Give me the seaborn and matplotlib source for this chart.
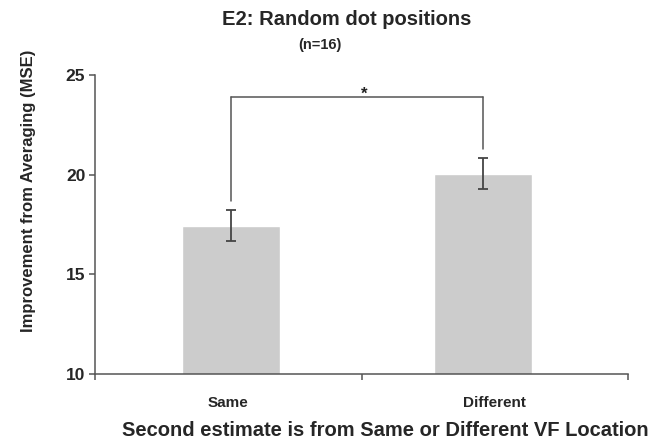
#! /usr/bin/env python3
'''
E2 bar chart: improvement from averaging, same vs different VF location
'''

# imports
import matplotlib
matplotlib.use('Agg')
import matplotlib.pyplot as plt
import pandas as pd
import seaborn as sns

# data
conditions = ['Same', 'Different']
mse_gain = [17.45, 20.05]
sem = [0.80, 0.78]
y_ticks = [10, 15, 20, 25]
sig_label = '*'

# style
sns.set_style('ticks')
plt.rcParams['font.family'] = ['Liberation Sans', 'DejaVu Sans']
plt.rcParams['font.weight'] = 'bold'
LINE = '#555555'
BAR = '#cccccc'
BAR_POS = [0.01, 0.955]  # bars sit slightly off the category centres

df = pd.DataFrame({'cond': conditions, 'gain': mse_gain})

fig = plt.figure(figsize=(6.57, 4.4), dpi=100)
ax = fig.add_axes([0.1446, 0.15, 0.8114, 0.6795])

sns.barplot(data=df, x='cond', y='gain', order=conditions, color=BAR,
            width=0.37, errorbar=None, ax=ax, saturation=1)
for patch, pos in zip(ax.patches, BAR_POS):
    patch.set_x(pos - patch.get_width() / 2)
ax.errorbar(BAR_POS, mse_gain, yerr=sem, fmt='none',
            ecolor='#444444', elinewidth=1.3, capsize=3.5, capthick=1.3)

# significance bracket
top = 23.9
gap = 0.45
ax.plot([BAR_POS[0]] * 2, [mse_gain[0] + sem[0] + gap, top], color=LINE, lw=1.1)
ax.plot([BAR_POS[1]] * 2, [mse_gain[1] + sem[1] + gap, top], color=LINE, lw=1.1)
ax.plot(BAR_POS, [top, top], color=LINE, lw=1.1)
ax.text(0.51, top + 0.12, sig_label, ha='center', va='center', fontsize=12,
        color='#222222')

# axes
ax.set_ylim(10, 25)
ax.set_xlim(-0.5, 1.5)
ax.set_yticks(y_ticks)
ax.set_yticklabels([str(t) for t in y_ticks], fontsize=12.5, fontweight='bold')
ax.set_xticks([0, 1])
ax.set_xticklabels(conditions, fontsize=11, fontweight='bold')
ax.tick_params(axis='x', length=0, pad=16)
ax.set_xticks([-0.5, 0.5, 1.5], minor=True)
ax.tick_params(axis='x', which='minor', length=4, color=LINE, width=1.1)
ax.tick_params(axis='y', length=4, color=LINE, width=1.1, pad=3)
sns.despine(ax=ax)
for s in ['left', 'bottom']:
    ax.spines[s].set_color(LINE)
    ax.spines[s].set_linewidth(1.1)

ax.set_ylabel('Improvement from Averaging (MSE)', fontsize=12, fontweight='bold')
ax.set_xlabel('Second estimate is from Same or Different VF Location',
              fontsize=14.5, fontweight='bold')
ax.yaxis.set_label_coords(-0.11, 0.612)
ax.xaxis.set_label_coords(0.544, -0.158)

fig.text(0.527, 0.955, 'E2: Random dot positions', ha='center', va='center',
         fontsize=14.5, fontweight='bold')
fig.text(0.487, 0.898, '(n=16)', ha='center', va='center', fontsize=10.5,
         fontweight='bold')

fig.savefig('out.png', dpi=100)
